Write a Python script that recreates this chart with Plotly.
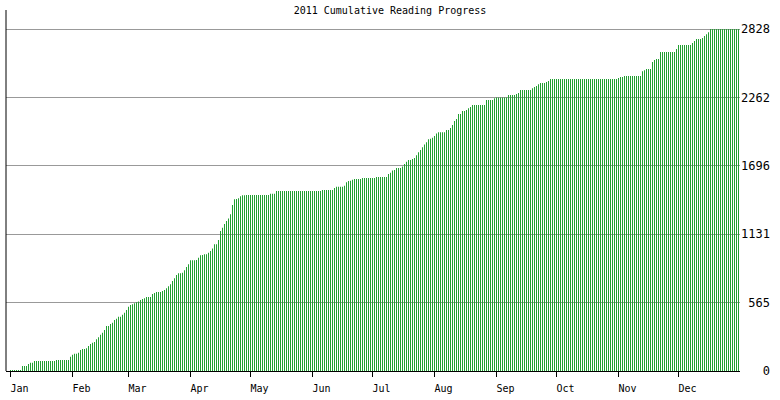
import pandas as pd
import plotly.graph_objects as go

title_text = "2011 Cumulative Reading Progress"
month_labels = ["Jan", "Feb", "Mar", "Apr", "May", "Jun",
                "Jul", "Aug", "Sep", "Oct", "Nov", "Dec"]
y_tick_values = [0, 565, 1131, 1696, 2262, 2828]
y_tick_labels = ["0", "565", "1131", "1696", "2262", "2828"]

# cumulative pages read, one value per day
jan_pages = [8, 8, 8, 8, 8, 8, 41, 41, 41, 58, 69, 69,
             83, 83, 83, 83, 83, 83, 83, 83, 83, 83, 83,
             91, 91, 91, 91, 91, 91, 91, 118]
feb_pages = [135, 143, 143, 151, 174, 182, 182, 188, 207, 223, 234, 240, 262, 279,
             300, 317, 339, 372, 372, 389, 400, 422, 433, 449, 449, 466, 482, 504]
mar_pages = [532, 546, 552, 560, 568, 574, 587, 595, 601, 612, 612, 612, 637, 645, 653,
             653, 653, 662, 670, 684, 700, 717, 744, 767, 794, 808, 808, 812, 833, 860, 882]
apr_pages = [915, 915, 915, 918, 937, 957, 960, 965, 965, 978, 992, 1012, 1048, 1048, 1083,
             1158, 1185, 1216, 1241, 1260, 1296, 1373, 1420, 1423, 1428, 1445, 1453, 1453, 1456, 1456]
may_pages = [1456, 1456, 1456, 1456, 1456, 1456, 1456, 1456, 1456, 1456,
             1466, 1466, 1466,
             1489, 1489, 1489, 1489, 1489, 1489, 1489, 1489, 1489,
             1489, 1489, 1489, 1489, 1489, 1489, 1489, 1489, 1489]
jun_pages = [1489, 1489, 1489, 1489, 1489, 1497, 1497, 1497, 1497, 1497, 1497,
             1513, 1524, 1524, 1524, 1524, 1532, 1560, 1571, 1574, 1582,
             1588, 1588, 1588, 1588, 1596, 1596, 1596, 1596, 1596]
jul_pages = [1596, 1596, 1604, 1604, 1604, 1604, 1604, 1604, 1629, 1640, 1657, 1662,
             1679, 1679, 1679, 1690, 1712, 1731, 1745, 1745, 1753, 1761, 1784, 1808,
             1828, 1850, 1872, 1891, 1916, 1921, 1929]
aug_pages = [1943, 1963, 1974, 1974, 1974, 1974, 1993, 1993, 2010, 2034, 2068, 2084,
             2125, 2125, 2150, 2150, 2158, 2172, 2183, 2200, 2200, 2200, 2200, 2200,
             2200, 2200, 2241, 2241, 2241, 2241, 2255]
sep_pages = [2262, 2262, 2262, 2262, 2262, 2262, 2283, 2283, 2283, 2283, 2291, 2299,
             2324, 2324, 2324, 2324, 2324, 2324, 2338, 2349, 2357, 2371, 2382, 2382,
             2382, 2390, 2398, 2415, 2415, 2415]
oct_pages = [2415, 2415, 2415, 2415, 2415, 2415, 2415, 2415, 2415, 2415, 2415,
             2415, 2415, 2415, 2415, 2415, 2415, 2415, 2415, 2415, 2415,
             2415, 2415, 2415, 2415, 2415, 2415, 2415, 2415, 2415, 2415]
nov_pages = [2423, 2431, 2431, 2440, 2440, 2440, 2440, 2440, 2440, 2440, 2440, 2440,
             2479, 2487, 2498, 2498, 2498, 2556, 2572, 2580, 2580,
             2638, 2638, 2638, 2638, 2638, 2638, 2638, 2638, 2663]
dec_pages = [2696, 2696, 2696, 2696, 2696, 2696, 2696, 2713, 2729, 2746, 2746, 2746,
             2754, 2770, 2784, 2801,
             2828, 2828, 2828, 2828, 2828, 2828, 2828, 2828, 2828, 2828, 2828, 2828,
             2828, 2828, 2828]

cumulative_pages = (jan_pages + feb_pages + mar_pages + apr_pages + may_pages + jun_pages +
                    jul_pages + aug_pages + sep_pages + oct_pages + nov_pages + dec_pages)

dates = pd.date_range("2011-01-01", periods=len(cumulative_pages), freq="D")
month_starts = pd.date_range("2011-01-01", periods=12, freq="MS")

DAY = pd.Timedelta(days=1)
DAY_MS = 86400000
MONO = "DejaVu Sans Mono"

fig = go.Figure(
    go.Bar(
        x=dates,
        y=cumulative_pages,
        width=DAY_MS * 0.5,
        marker=dict(color="#22a032", line=dict(width=0)),
        hoverinfo="skip",
    )
)

x_start = dates[0] - 2.25 * DAY
x_end = dates[-1] + 0.75 * DAY
y_top = y_tick_values[-1] * 361 / 342

fig.update_layout(
    width=780,
    height=400,
    margin=dict(l=6, r=40, t=10, b=29, pad=0),
    paper_bgcolor="white",
    plot_bgcolor="white",
    showlegend=False,
    title=dict(
        text=title_text,
        font=dict(family=MONO, size=10, color="black"),
        x=0.5, xref="container", xanchor="center",
        y=1 - 10 / 400, yref="container", yanchor="middle",
    ),
    xaxis=dict(
        type="date",
        range=[x_start, x_end],
        tickvals=month_starts,
        ticktext=month_labels,
        ticks="outside",
        ticklen=5,
        tickwidth=1,
        tickcolor="black",
        ticklabelshift=9,
        ticklabelstandoff=3,
        tickfont=dict(family=MONO, size=10, color="black"),
        showline=True,
        linecolor="black",
        linewidth=1,
        showgrid=False,
        zeroline=False,
        fixedrange=True,
    ),
    yaxis=dict(
        side="right",
        range=[0, y_top],
        tickvals=y_tick_values,
        ticktext=[t.rjust(4, "\u00a0") for t in y_tick_labels],
        ticks="",
        tickfont=dict(family=MONO, size=12, color="black"),
        showgrid=True,
        gridcolor="#999999",
        gridwidth=1,
        zeroline=False,
        showline=False,
        fixedrange=True,
    ),
    shapes=[
        dict(type="line", xref="paper", yref="paper", x0=0, x1=0, y0=0, y1=1,
             line=dict(color="black", width=1)),
    ],
)

fig.write_html(
    "out.html",
    config={"displayModeBar": False},
    post_script="document.body.style.margin='0';",
)
